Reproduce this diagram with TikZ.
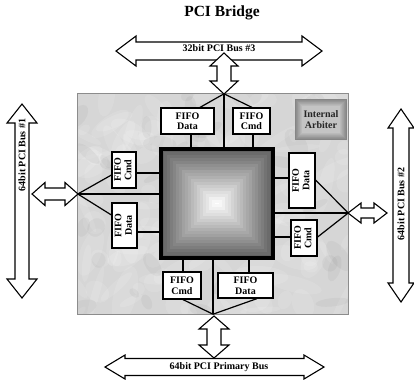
\documentclass[tikz,border=0pt]{standalone}
\usepackage{fontspec}
\usepackage{graphicx}
\setmainfont{Liberation Serif}
\usetikzlibrary{calc}
\newcommand\hdarr[6]{% x1,x2,y,shafthalf,headhalf,headlen
  \draw[blockarr] (#1,#3) -- ({#1+#6},{#3-#5}) -- ({#1+#6},{#3-#4}) -- ({#2-#6},{#3-#4}) -- ({#2-#6},{#3-#5}) -- (#2,#3)
   -- ({#2-#6},{#3+#5}) -- ({#2-#6},{#3+#4}) -- ({#1+#6},{#3+#4}) -- ({#1+#6},{#3+#5}) -- cycle;}
\newcommand\vdarr[6]{% x,y1,y2,shafthalf,headhalf,headlen
  \draw[blockarr] (#1,#2) -- ({#1+#5},{#2+#6}) -- ({#1+#4},{#2+#6}) -- ({#1+#4},{#3-#6}) -- ({#1+#5},{#3-#6}) -- (#1,#3)
   -- ({#1-#5},{#3-#6}) -- ({#1-#4},{#3-#6}) -- ({#1-#4},{#2+#6}) -- ({#1-#5},{#2+#6}) -- cycle;}
\newcommand\rottwo[2]{\rotatebox{90}{\begin{tabular}{@{}c@{}}#1\\#2\end{tabular}}}
\begin{document}
\begin{tikzpicture}[x=1pt,y=-1pt,
  fifo/.style={draw,fill=white,line width=1.2pt,inner sep=0pt,align=center,
    font=\fontsize{10}{10.5}\selectfont\bfseries},
  wire/.style={line width=1.2pt},
  blockarr/.style={draw,fill=white,line width=1.1pt,line join=miter},
  buslabel/.style={font=\fontsize{10}{11}\selectfont\bfseries,inner sep=0pt}]
\useasboundingbox (0,0) rectangle (414,381);

% title
\node[font=\fontsize{15.5}{17}\selectfont\bfseries] (title) at (222,13) {PCI Bridge};

% chip background
\node[fill=black!16,minimum width=270pt,minimum height=220pt,inner sep=0pt] (chip) at (213,204) {};
\begin{scope}
  \clip (chip.north west) rectangle (chip.south east);
  \pgfmathsetseed{11}
  \foreach \k in {1,...,140}{
    \pgfmathsetmacro\px{78+270*rnd}\pgfmathsetmacro\py{94+220*rnd}
    \pgfmathsetmacro\rx{6+24*rnd}\pgfmathsetmacro\ry{3+9*rnd}\pgfmathsetmacro\ang{360*rnd}
    \fill[white,opacity=0.12] (\px,\py) ellipse[x radius=\rx,y radius=\ry,rotate=\ang];}
  \foreach \k in {1,...,50}{
    \pgfmathsetmacro\px{78+270*rnd}\pgfmathsetmacro\py{94+220*rnd}
    \pgfmathsetmacro\rx{4+14*rnd}\pgfmathsetmacro\ry{3+7*rnd}\pgfmathsetmacro\ang{360*rnd}
    \fill[black,opacity=0.035] (\px,\py) ellipse[x radius=\rx,y radius=\ry,rotate=\ang];}
\end{scope}
\draw[black!45,line width=0.8pt] (chip.north west) rectangle (chip.south east);

% central core with pyramid shading
\node[minimum width=112pt,minimum height=109pt,inner sep=0pt] (core) at (217,203.5) {};
\foreach \i in {0,...,18}{
  \pgfmathtruncatemacro\c{62*(1-\i/18)}
  \fill[black!\c] ($(core.north west)+(3*\i,3*\i)$) rectangle ($(core.south east)+(-3*\i,-3*\i)$);}

% FIFO boxes
\node[fifo,minimum width=53pt,minimum height=26pt] (tdata) at (187.5,121) {FIFO\\Data};
\node[fifo,minimum width=37pt,minimum height=26pt] (tcmd) at (251.5,121) {FIFO\\Cmd};
\node[fifo,minimum width=24pt,minimum height=36pt] (lcmd) at (124,170) {\rottwo{FIFO}{Cmd}};
\node[fifo,minimum width=25pt,minimum height=45pt] (ldata) at (124.5,225.5) {\rottwo{FIFO}{Data}};
\node[fifo,minimum width=26pt,minimum height=55pt] (rdata) at (302,180.5) {\rottwo{FIFO}{Data}};
\node[fifo,minimum width=26pt,minimum height=36pt] (rcmd) at (304,238) {\rottwo{FIFO}{Cmd}};
\node[fifo,minimum width=38pt,minimum height=27pt] (bcmd) at (182,285.5) {FIFO\\Cmd};
\node[fifo,minimum width=55pt,minimum height=25pt] (bdata) at (245.5,285.5) {FIFO\\Data};

% junctions
\coordinate (jt) at ([xshift=11pt]chip.north);
\coordinate (jl) at ([yshift=10pt]chip.west);
\coordinate (jr) at ([yshift=-9pt]chip.east);
\coordinate (jb) at (chip.south);

% wires top
\draw[wire] (jt) -- ([xshift=12.5pt]tdata.north);
\draw[wire] (jt) -- ([xshift=0.5pt]tcmd.north);
\draw[wire] (jt) -- (jt |- core.north);
\coordinate (a1) at ([xshift=3.5pt]tdata.south);
\coordinate (a2) at ([xshift=1.5pt]tcmd.south);
\draw[wire] (a1) -- (a1 |- core.north);
\draw[wire] (a2) -- (a2 |- core.north);
% wires left
\draw[wire] (jl) -- ([yshift=-5pt]lcmd.west);
\draw[wire] (jl) -- ([yshift=10.5pt]ldata.west);
\draw[wire] (jl) -- (jl -| core.west);
\coordinate (a3) at ([yshift=-3pt]lcmd.east);
\coordinate (a4) at ([yshift=-6.5pt]ldata.east);
\draw[wire] (a3) -- (a3 -| core.west);
\draw[wire] (a4) -- (a4 -| core.west);
% wires right
\draw[wire] (jr) -- ([yshift=0.5pt]rdata.east);
\draw[wire] (jr) -- ([yshift=1pt]rcmd.east);
\draw[wire] (jr) -- (jr -| core.east);
\coordinate (a5) at ([yshift=2.5pt]rdata.west);
\coordinate (a6) at ([yshift=1pt]rcmd.west);
\draw[wire] (a5) -- (a5 -| core.east);
\draw[wire] (a6) -- (a6 -| core.east);
% wires bottom
\draw[wire] (jb) -- ([xshift=1pt]bcmd.south);
\draw[wire] (jb) -- ([xshift=11.5pt]bdata.south);
\draw[wire] (jb) -- (jb |- core.south);
\coordinate (a7) at ([xshift=1pt]bcmd.north);
\coordinate (a8) at ([xshift=3.5pt]bdata.north);
\draw[wire] (a7) -- (a7 |- core.south);
\draw[wire] (a8) -- (a8 |- core.south);

% core border
\draw[line width=4pt] (core.north west) rectangle (core.south east);

% internal arbiter
\node[minimum width=52pt,minimum height=41pt,inner sep=0pt] (arb) at (321,119.5) {};
\foreach \i in {0,...,7}{
  \pgfmathtruncatemacro\c{48-3.5*\i}
  \fill[black!\c] ($(arb.north west)+(\i,\i)$) rectangle ($(arb.south east)+(-\i,-\i)$);}
\node[font=\fontsize{10}{10.5}\selectfont\bfseries,align=center,text=black!85] at (arb) {Internal\\Arbiter};

% buses
\hdarr{116}{322}{51}{9}{15}{20}
\vdarr{224}{53}{94}{7}{14}{13}
\vdarr{22}{104}{298}{7}{15}{19}
\hdarr{32}{78}{194}{6}{11.5}{13}
\vdarr{401}{109}{302}{8}{13}{19}
\hdarr{348}{387}{213}{5}{10}{13}
\hdarr{105}{324}{367}{8.5}{12}{20}
\vdarr{214}{316}{358}{7}{15}{13}

\node[buslabel] (bus3) at (219,48) {32bit PCI Bus \#3};
\node[buslabel,rotate=90] (bus1) at (22,155) {64bit PCI Bus \#1};
\node[buslabel,rotate=90] (bus2) at (401,204) {64bit PCI Bus \#2};
\node[buslabel] (bus0) at (219,367) {64bit PCI Primary Bus};
\end{tikzpicture}
\end{document}
